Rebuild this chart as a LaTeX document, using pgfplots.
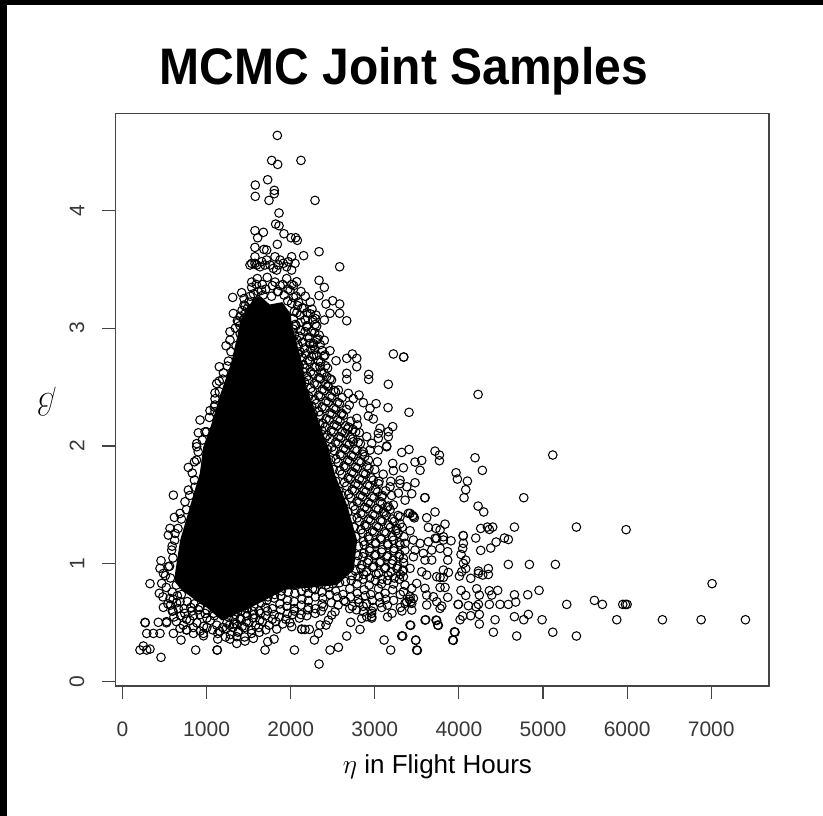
\documentclass[border=0pt]{standalone}
\usepackage{fontspec}
\usepackage{pgfplots}
\pgfplotsset{compat=1.18}
\setmainfont{Liberation Sans}
\definecolor{ax}{gray}{0.27}
\definecolor{tl}{gray}{0.22}
\begin{document}
\begin{tikzpicture}[x=1pt,y=1pt]
\path[use as bounding box] (0,0) rectangle (823,816);
\fill[white] (0,0) rectangle (823,816);
\fill[black] (0,0) rectangle (7,816);
\fill[black] (0,811.3) rectangle (823,816);
\node[anchor=base,inner sep=0pt,yscale=1.07] at (404,731) {\fontsize{48}{54}\selectfont\bfseries MCMC Joint Samples};
\begin{axis}[
  at={(115.5pt,130pt)},anchor=south west,
  scale only axis,width=653.5pt,height=572.5pt,
  xmin=-83.2,xmax=7687,ymin=-0.036,ymax=4.82,
  axis line style={ax,line width=1.2pt},
  xtick={0,1000,2000,3000,4000,5000,6000,7000},
  ytick={0,1,2,3,4},
  tick align=outside,tick pos=left,
  major tick length=13pt,
  every tick/.style={ax,line width=1.1pt},
  /pgf/number format/assume math mode=true,
  /pgf/number format/1000 sep={},
  x tick label style={font=\fontsize{21}{24}\selectfont,text=tl,inner sep=0pt,anchor=base,yshift=-38pt},
  y tick label style={font=\fontsize{21}{24}\selectfont,text=tl,inner sep=0pt,rotate=90,anchor=south,yshift=18pt},
  xlabel={\scalebox{1.1}{$\eta$} in Flight Hours},
  ylabel={\scalebox{1.3}{$\beta$}},
  xlabel style={font=\fontsize{26}{30}\selectfont,at={(axis description cs:0.4927,-0.152)},anchor=base,inner sep=0pt},
  ylabel style={font=\fontsize{26}{30}\selectfont,at={(axis description cs:-0.105,0.497)},anchor=center,rotate=90,inner sep=0pt},
  clip=false,
]
% region where the points overlap into solid black
\addplot[fill=black,draw=none] coordinates {
(1420,3.1)(1560,3.25)(1640,3.27)(1750,3.2)(1900,3.22)(2000,3.12)(2010,3.05)(2060,2.9)(2120,2.75)(2190,2.5)(2310,2.25)(2440,2.0)(2530,1.75)(2670,1.5)(2790,1.2)(2750,.95)(2550,.82)(2250,.8)(1930,.78)(1610,.66)(1375,.58)(1180,.52)(1000,.63)(850,.7)(700,.78)(620,.85)(625,.92)(685,1.2)(800,1.48)(920,1.77)(960,1.99)(1060,2.19)(1150,2.41)(1290,2.70)
} -- cycle;
\addplot[only marks,mark=o,mark size=4.3pt,mark options={black,line width=1.05pt}] coordinates {
% top
(1841,4.634)(1774,4.422)(1845,4.388)(2122,4.422)(1726,4.258)(1579,4.213)(1579,4.117)(1805,4.168)(1805,4.14)(1742,4.083)(2289,4.083)
(1861,3.976)(1821,3.882)(1861,3.868)(1575,3.826)(1675,3.812)(1607,3.766)(1920,3.8)(2004,3.766)(2059,3.766)(2079,3.744)(1575,3.684)(1841,3.71)(1682,3.667)(1714,3.662)(2337,3.648)(2154,3.614)(2582,3.52)
(1575,3.605)(1536,3.549)(1575,3.549)(1655,3.563)(1714,3.577)(1813,3.605)(1873,3.577)(2011,3.605)(2051,3.549)(2011,3.492)(1833,3.492)(1516,3.535)(1635,3.52)(1754,3.535)(1912,3.549)(1793,3.506)(1952,3.52)(1694,3.535)(1853,3.535)(1595,3.535)(1972,3.563)
(2337,3.405)(2400,3.345)(2337,3.275)(2420,3.204)(2499,3.232)(2582,3.204)(2467,3.125)(2582,3.125)(2666,3.062)(2400,3.068)(2309,3.017)(2301,3.11)(2400,2.896)(2309,2.9)(2269,2.85)(2467,2.808)(2408,2.771)(2249,2.757)(2539,2.723)(2666,2.743)(2733,2.78)(2785,2.743)(2785,2.672)(2666,2.616)(2666,2.565)(2927,2.607)(2927,2.565)(3161,2.523)(3221,2.78)(3343,2.754)
(2567,2.474)(2685,2.446)(2812,2.432)(2745,2.401)(2428,2.588)(2348,2.672)(2447,2.503)
(2697,2.347)(2864,2.367)(3015,2.359)(2943,2.319)(3157,2.325)(3407,2.285)(2923,2.254)(2983,2.229)(2785,2.234)(2606,2.277)(2793,2.178)(3213,2.164)(3062,2.15)(3161,2.121)(3042,2.107)(2816,2.113)(2674,2.144)(3161,2.079)(3042,2.065)(2904,2.079)(2745,2.036)(2963,2.022)(3141,2)
% left edge
(1417,3.3)(1310,3.26)(1457,3.187)(1318,3.124)(1366,3.062)(1278,2.969)(1278,2.898)(1231,2.85)(1151,2.672)(1247,2.678)(1191,2.567)(1120,2.53)(1151,2.46)(1100,2.4)(1100,2.347)(1100,2.29)(922,2.22)(1033,2.242)(902,2.112)(981,2.12)(882,2.02)
(882,1.993)(855,1.866)(783,1.818)(855,1.711)(783,1.626)(605,1.583)(743,1.527)(684,1.428)(617,1.394)(565,1.301)(545,1.244)(625,1.258)(585,1.117)(458,1.027)(446,.962)(545,.976)(486,.919)(327,.832)(466,.834)(438,.75)(486,.631)(565,.707)
(1400,2.95)(1350,2.85)(1290,2.8)(1260,2.72)(1200,2.62)(1150,2.55)(1100,2.45)(1090,2.33)(1040,2.3)(1000,2.12)(950,2.05)(900,1.95)(880,1.88)(830,1.77)(860,1.65)(800,1.58)(760,1.46)(700,1.38)(660,1.3)(620,1.2)(590,1.15)(600,1.05)(560,.98)(570,.88)(510,.9)(520,.8)(480,.72)(540,.66)(600,.6)
% bottom edge
(268,.504)(270,.5)(426,.504)(525,.51)(288,.41)(367,.41)(446,.41)(605,.41)(696,.354)(684,.453)(763,.439)(843,.41)(962,.41)(208,.269)(248,.303)(288,.269)(327,.277)(458,.207)(870,.269)(1124,.269)(1128,.269)(1695,.269)(2044,.269)(1727,.34)(1802,.362)(1132,.362)(1279,.362)(1358,.325)(1457,.345)(1556,.368)(1358,.382)(1627,.419)(1834,.447)(2012,.467)(2131,.447)
(2824,.444)(2713,.504)(2666,.388)(2567,.292)(2468,.269)(2337,.15)(2281,.354)(2329,.41)(2222,.444)(2170,.444)(2131,.444)(2420,.481)(2527,.594)(2488,.566)(2388,.636)(2448,.523)(2349,.481)(2864,.594)(2844,.537)(2904,.552)(2963,.552)(3110,.354)(3189,.269)(3320,.388)(3498,.269)(3487,.354)(3926,.354)(3946,.424)(3419,.481)(3598,.523)(3728,.523)(3748,.481)
% right tail
(3344,2.754)(4228,2.437)(3407,1.97)(3716,1.956)(3768,1.923)(3768,1.875)(3558,1.877)(3478,1.863)(3538,1.793)(3340,1.815)(4192,1.9)(4279,1.793)(3966,1.773)(3982,1.719)(4101,1.702)(4081,1.629)(4061,1.561)(4771,1.561)(3593,1.561)(3598,1.561)(4228,1.49)(4295,1.44)(3716,1.44)(3478,1.688)(3439,1.595)(3835,1.337)(3617,1.391)(3459,1.4)(3419,1.428)(5397,1.312)(5988,1.29)(4660,1.312)(4402,1.312)(4339,1.312)(4362,1.292)(4259,1.3)(4053,1.238)(4050,1.24)(4200,1.219)(3906,1.196)(4588,1.207)(4541,1.219)(4442,1.185)(4378,1.134)(4259,1.114)(4053,1.174)(4045,1.131)(4025,1.08)(4081,1.032)(3867,1.103)(3867,1.032)(4588,.995)(4838,.995)(5147,.995)(4350,.96)(4232,.939)(4350,.91)(4461,.775)(4953,.775)(4818,.738)(4660,.738)(4675,.676)(4588,.656)(4489,.656)(4362,.656)(5282,.656)(5611,.69)(5706,.656)(5948,.656)(5980,.656)(6000,.656)(7010,.832)(7407,.526)(6880,.526)(6420,.526)(5877,.526)(4989,.526)(4826,.571)(4660,.552)(4771,.526)(4430,.526)(4243,.571)(4410,.42)(4687,.388)(5116,.42)(5397,.388)(5116,1.923)(3954,.42)(3934,.351)(3486,.351)(3506,.266)(3332,.388)(3427,.478)(3605,.526)(3736,.52)(3756,.478)
(4006,.896)(4140,.877)(4283,.905)(4232,.919)(4053,1.004)(4081,.96)(4033,.933)(4212,.789)(4025,.775)(4081,.732)(4243,.735)(4362,.772)(4390,.735)(4232,.656)(4204,.636)(4113,.645)(3994,.656)(3990,.656)(4140,.56)(4045,.557)(4014,.526)(4243,.49)
% mid right
(3359,1.174)(3459,1.202)(3538,1.174)(3637,1.188)(3736,1.216)(3815,1.202)(3359,1.117)(3478,1.117)(3577,1.089)(3677,1.117)(3776,1.131)(3340,1.046)(3459,1.06)(3597,1.032)(3677,1.032)(3340,.947)(3419,.962)(3558,.933)(3617,.905)(3815,.947)(3875,.927)(3340,.891)(3776,.885)(3815,.885)(3736,.891)(3359,.82)(3498,.834)(3597,.792)(3776,.8)(3835,.8)(3340,.764)(3439,.792)(3617,.735)(3696,.721)(3419,.721)(3379,.679)(3459,.707)(3439,.665)(3617,.651)(3736,.679)(3867,.716)(3776,.622)(3439,.608)(3359,.665)(3796,.642)(3410,.7)(3430,.68)
(3300,1.68)(3181,1.654)(3380,1.654)(3082,1.57)(3221,1.5)(3300,1.4)(3102,1.442)(3360,1.54)(3260,1.3)(3470,1.39)(3450,1.41)(3320,1.945)(3213,1.852)(3221,1.79)(3300,1.71)(3399,1.428)(3637,1.309)(3728,1.301)(3776,1.287)(3419,1.281)(3816,1.23)(3716,1.216)
(2864,1.95)(2943,1.965)(3043,1.965)(3141,1.993)(2924,1.88)(3031,1.866)(3000,1.8)(3100,1.76)(3190,1.7)(3050,1.7)(3130,1.62)(3200,1.58)(3280,1.6)(3160,1.49)
% upper zone
(1536,3.39)(1603,3.42)(1662,3.37)(1721,3.43)(1813,3.39)(1874,3.36)(1952,3.42)(2013,3.37)(2071,3.393)
(1536,3.345)(1591,3.37)(1653,3.32)(1782,3.36)(1843,3.31)(1905,3.37)(1968,3.33)(2034,3.36)
(1557,3.29)(1612,3.31)(1704,3.33)(1773,3.27)(1852,3.31)(1921,3.28)(1993,3.32)(2063,3.27)(2122,3.31)
(1445,3.25)(1518,3.27)(1601,3.23)(1672,3.28)(1964,3.23)(2033,3.26)(2092,3.22)(2173,3.27)
(1445,3.195)(1503,3.22)(2012,3.21)(2083,3.19)(2152,3.17)(2233,3.22)
(1421,3.15)(1487,3.17)(2043,3.14)(2073,3.13)(2134,3.17)(2192,3.13)(2253,3.16)
(1398,3.1)(1456,3.12)(2033,3.08)(2113,3.11)(2172,3.07)(2234,3.12)(2291,3.08)
(1376,3.05)(1438,3.07)(2052,3.03)(2122,3.05)(2193,3.02)(2262,3.07)
(1342,3.0)(1397,3.02)
% right band
(2030,2.99)(2063,3.02)(2121,2.98)(2188,3.01)(2245,2.97)(2290,3.03)
(2045,2.94)(2102,2.93)(2171,2.97)(2224,2.92)(2285,2.96)(2339,2.94)
(2075,2.9)(2142,2.88)(2203,2.92)(2268,2.87)(2322,2.91)
(2090,2.85)(2163,2.83)(2226,2.87)(2287,2.82)(2351,2.86)
(2110,2.8)(2182,2.78)(2240,2.82)(2309,2.77)(2372,2.81)
(2135,2.75)(2205,2.73)(2273,2.77)(2331,2.72)(2394,2.76)
(2150,2.69)(2226,2.72)(2282,2.67)(2356,2.71)(2415,2.68)
(2170,2.66)(2238,2.63)(2301,2.67)(2372,2.62)(2439,2.66)
(2195,2.59)(2266,2.61)(2334,2.58)(2398,2.62)(2468,2.57)
(2215,2.56)(2281,2.53)(2352,2.57)(2417,2.52)(2486,2.56)
(2240,2.49)(2312,2.52)(2376,2.48)(2441,2.51)(2512,2.47)
(2260,2.46)(2331,2.43)(2398,2.47)(2467,2.42)(2533,2.46)
(2285,2.39)(2354,2.42)(2421,2.38)(2489,2.41)(2558,2.37)(2611,2.41)
(2305,2.36)(2372,2.33)(2446,2.37)(2512,2.32)(2579,2.36)
(2335,2.29)(2405,2.32)(2468,2.28)(2537,2.31)(2603,2.27)(2664,2.31)
(2350,2.26)(2421,2.23)(2491,2.27)(2559,2.22)(2627,2.26)
(2385,2.19)(2456,2.22)(2518,2.18)(2586,2.21)(2654,2.17)(2716,2.21)
(2410,2.16)(2479,2.13)(2547,2.17)(2611,2.12)(2688,2.16)(2741,2.14)
(2435,2.09)(2506,2.12)(2574,2.08)(2643,2.11)(2709,2.07)(2772,2.12)
(2465,2.06)(2533,2.03)(2598,2.07)(2669,2.02)(2738,2.06)(2803,2.03)
(2490,1.99)(2561,2.02)(2628,1.98)(2694,2.01)(2763,1.97)(2829,2.02)
(2515,1.96)(2586,1.93)(2652,1.97)(2721,1.92)(2788,1.96)(2856,1.93)
(2540,1.89)(2607,1.92)(2678,1.88)(2743,1.91)(2812,1.87)(2881,1.91)
(2565,1.86)(2632,1.83)(2699,1.87)(2771,1.82)(2838,1.86)(2906,1.83)
(2585,1.79)(2655,1.82)(2727,1.78)(2793,1.81)(2864,1.77)(2931,1.81)
(2610,1.76)(2681,1.73)(2749,1.77)(2816,1.72)(2889,1.76)(2956,1.73)
(2640,1.69)(2708,1.72)(2774,1.68)(2847,1.71)(2913,1.67)(2982,1.71)(3044,1.68)
(2665,1.66)(2731,1.63)(2802,1.67)(2871,1.62)(2938,1.66)(3009,1.63)
(2690,1.59)(2759,1.62)(2828,1.58)(2894,1.61)(2966,1.57)(3033,1.61)(3091,1.58)
(2715,1.56)(2787,1.53)(2853,1.57)(2921,1.52)(2991,1.56)(3061,1.53)
(2745,1.49)(2812,1.52)(2879,1.48)(2949,1.51)(3018,1.47)(3087,1.51)(3149,1.48)
(2765,1.46)(2833,1.43)(2907,1.47)(2976,1.42)(3043,1.46)(3113,1.43)(3182,1.46)
(2790,1.39)(2858,1.42)(2926,1.38)(2998,1.41)(3069,1.37)(3136,1.41)(3207,1.38)(3276,1.41)
(2815,1.36)(2881,1.33)(2951,1.37)(3021,1.32)(3088,1.36)(3162,1.33)(3231,1.36)(3301,1.34)
(2835,1.29)(2904,1.32)(2972,1.28)(3043,1.31)(3112,1.27)(3186,1.31)(3252,1.28)(3326,1.31)
(2855,1.26)(2921,1.23)(2993,1.27)(3067,1.22)(3134,1.26)(3208,1.23)(3277,1.26)(3347,1.23)
(2865,1.19)(2934,1.21)(3008,1.18)(3079,1.21)(3151,1.17)(3222,1.2)(3293,1.18)
(2875,1.16)(2941,1.13)(3012,1.17)(3086,1.12)(3158,1.16)(3229,1.13)(3301,1.16)
(2870,1.09)(2937,1.11)(3009,1.08)(3082,1.1)(3152,1.07)(3226,1.11)(3296,1.08)
(2860,1.06)(2926,1.03)(2998,1.07)(3071,1.02)(3143,1.06)(3214,1.03)(3287,1.06)
(2845,.99)(2912,1.01)(2986,.98)(3058,1.01)(3129,.97)(3203,1.0)(3274,.98)(3343,1.01)
(2835,.96)(2901,.93)(2973,.97)(3046,.92)(3118,.96)(3191,.93)(3262,.96)(3331,.94)
(2800,.89)(2869,.91)(2942,.88)(3014,.91)(3087,.87)(3159,.9)(3231,.88)(3302,.91)
(2720,.86)(2788,.83)(2861,.87)(2933,.82)(3006,.86)(3079,.83)(3151,.86)(3224,.83)(3292,.87)
% band, inner column
(2270,2.27)(2250,2.34)(2215,2.42)(2165,2.54)(2145,2.63)(2085,2.78)(2100,2.68)(2020,2.91)(2370,2.13)(2345,2.18)(2410,2.07)(2440,1.97)(2475,1.88)(2505,1.8)(2535,1.7)(2570,1.62)(2610,1.58)(2640,1.52)(2680,1.44)(2725,1.38)(2755,1.31)(2775,1.23)(2805,1.15)(2800,1.07)(2780,1.02)(2770,.94)(2730,.9)(2650,.85)(2580,.84)
(2500,.83)(2420,.82)(2340,.83)(2260,.79)(2180,.8)
(1480,.62)(1560,.64)(1650,.67)(1730,.72)(1810,.74)(1890,.77)(1970,.76)(2050,.75)(2130,.77)(2210,.75)(1080,.58)(1000,.61)(920,.63)(850,.66)(770,.68)(700,.74)(640,.82)(1260,.55)(1340,.57)(1410,.6)
% lower zone
(2290,.78)(2371,.76)(2454,.8)(2533,.77)(2622,.74)(2703,.79)(2791,.75)(2872,.78)(2951,.74)(3043,.79)(3122,.75)(3212,.78)
(592,.76)(652,.73)(1715,.69)(1803,.71)(1882,.73)(1963,.69)(2041,.68)(2133,.7)(2212,.69)(2291,.72)(2382,.71)(2463,.74)(2552,.72)(2634,.69)(2713,.72)(2802,.7)(2884,.73)(2972,.69)(3053,.72)(3131,.7)(3223,.69)(3303,.74)
(603,.7)(684,.68)(2483,.67)(2564,.65)(2652,.68)(2733,.64)(2812,.67)(2903,.66)(2982,.63)(3062,.67)
(571,.65)(643,.67)(733,.62)(812,.63)(1463,.58)(1541,.6)(1623,.6)(1702,.63)(1781,.62)(1872,.66)(1953,.64)(2042,.62)(2123,.65)(2211,.63)(2292,.62)(2373,.66)(2702,.62)(2782,.61)(2861,.64)(2962,.6)(3083,.63)(3151,.65)(3304,.63)
(592,.6)(663,.62)(741,.58)(823,.6)(904,.61)(982,.58)(1324,.53)(1403,.54)(1482,.56)(1563,.57)(1642,.58)(1723,.6)(1804,.57)(1881,.61)(1963,.58)(2044,.6)(2122,.57)(2203,.61)(2291,.58)(2362,.6)(2962,.58)(3204,.58)(3322,.6)
(612,.55)(693,.56)(762,.53)(841,.56)(923,.57)(1003,.54)(1091,.56)(1241,.5)(1323,.49)(1401,.53)(1472,.51)(1553,.54)(1631,.52)(1703,.56)(1782,.53)(1863,.55)(1942,.53)(2023,.57)(2103,.54)(2192,.56)(2964,.54)(3152,.55)
(523,.5)(641,.51)(722,.48)(803,.52)(884,.5)(963,.47)(1042,.52)(1121,.48)(1193,.46)(1272,.48)(1354,.49)(1423,.47)(1503,.5)(1582,.48)(1664,.51)(1742,.48)(1823,.51)(1904,.49)(1991,.5)
(762,.44)(841,.46)(923,.43)(1003,.46)(1072,.44)(1153,.43)(1232,.45)(1313,.46)(1382,.43)(1453,.46)(1532,.44)(1621,.46)(1703,.44)
(963,.39)(1133,.41)(1224,.38)(1283,.4)(1372,.42)(1452,.38)(1534,.41)
};
\end{axis}
\end{tikzpicture}
\end{document}
